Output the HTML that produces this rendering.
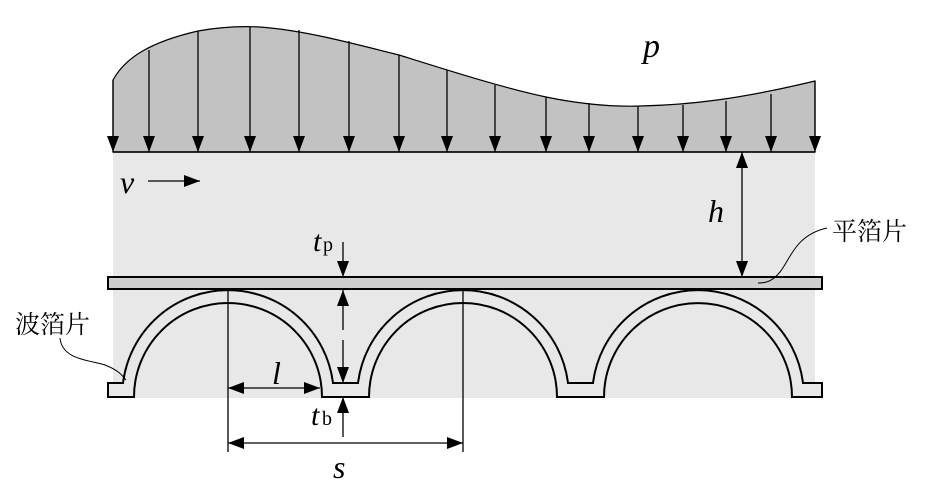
<!DOCTYPE html>
<html><head><meta charset="utf-8"><style>
html,body{margin:0;padding:0;background:#fff;width:939px;height:504px;overflow:hidden}
svg{display:block}
.it{font-family:"Liberation Serif","DejaVu Serif",serif;font-style:italic}
.rm{font-family:"Liberation Serif","DejaVu Serif",serif}
.cj{font-family:"Liberation Serif","Noto Serif CJK SC",serif}
</style></head><body>
<svg width="939" height="504" viewBox="0 0 939 504" xmlns="http://www.w3.org/2000/svg">
<defs>
<marker id="ab" viewBox="0 0 16 12" refX="16" refY="6" markerWidth="16" markerHeight="12" markerUnits="userSpaceOnUse" orient="auto-start-reverse"><path d="M0,0 L16,6 L0,12 z" fill="#000"/></marker>
</defs>
<rect x="113" y="152" width="702" height="246" fill="#e8e8e8"/>
<path d="M113,152 L113,80 C125,58 150,42 198,31 C220,27 240,26 260,27 C300,30 340,40 399,55 C450,71 500,87 546,97 C580,104 610,107 640,106 C690,105 740,99 815,81 L815,152 Z" fill="#c2c2c2" stroke="#000" stroke-width="1.2"/>
<g stroke="#000" stroke-width="1.3" fill="none" marker-end="url(#ab)">
<line x1="113" y1="80" x2="113" y2="152"/>
<line x1="149" y1="50" x2="149" y2="152"/>
<line x1="198" y1="31" x2="198" y2="152"/>
<line x1="250" y1="27" x2="250" y2="152"/>
<line x1="299" y1="30" x2="299" y2="152"/>
<line x1="349" y1="41" x2="349" y2="152"/>
<line x1="399" y1="55" x2="399" y2="152"/>
<line x1="447" y1="70" x2="447" y2="152"/>
<line x1="495" y1="85" x2="495" y2="152"/>
<line x1="546" y1="97" x2="546" y2="152"/>
<line x1="589" y1="103" x2="589" y2="152"/>
<line x1="638" y1="106" x2="638" y2="152"/>
<line x1="683" y1="105" x2="683" y2="152"/>
<line x1="726" y1="101" x2="726" y2="152"/>
<line x1="771" y1="94" x2="771" y2="152"/>
<line x1="815" y1="81" x2="815" y2="152"/>
</g>
<line x1="113" y1="152" x2="815" y2="152" stroke="#000" stroke-width="1.5"/>
<text x="643" y="57" class="it" font-size="34">p</text>
<rect x="108" y="277" width="714" height="12" fill="#cfcfcf" stroke="#000" stroke-width="2"/>
<path d="M108,383 L123,383 A105.8,105.8 0 0 1 333,383 L358,383 A105.8,105.8 0 0 1 568,383 L593,383 A105.8,105.8 0 0 1 803,383 L822,383 L822,397 L792,397 A94,94 0 0 0 604,397 L557,397 A94,94 0 0 0 369,397 L322,397 A94,94 0 0 0 134,397 L108,397 Z" fill="#e8e8e8" stroke="#000" stroke-width="2"/>
<g stroke="#000" stroke-width="1.3" fill="none">
<line x1="228" y1="290" x2="228" y2="452"/>
<line x1="463" y1="290" x2="463" y2="452"/>
<line x1="228" y1="388" x2="320" y2="388" marker-start="url(#ab)" marker-end="url(#ab)"/>
<line x1="228" y1="443" x2="463" y2="443" marker-start="url(#ab)" marker-end="url(#ab)"/>
<line x1="343" y1="242" x2="343" y2="277" marker-end="url(#ab)"/>
<line x1="343" y1="290" x2="343" y2="330" marker-start="url(#ab)"/>
<line x1="343" y1="340" x2="343" y2="383" marker-end="url(#ab)"/>
<line x1="343" y1="437" x2="343" y2="397" marker-end="url(#ab)"/>
<line x1="742" y1="152" x2="742" y2="277" marker-start="url(#ab)" marker-end="url(#ab)"/>
<line x1="148" y1="181" x2="200" y2="181" marker-end="url(#ab)"/>
<path d="M827,228 C795,235 790,260 780,272 C772,282 765,283 758,283" stroke-width="1"/>
<path d="M60,338 C62,360 90,360 105,365 C118,370 122,375 126,380" stroke-width="1"/>
</g>
<text x="120" y="193" class="it" font-size="32">v</text>
<text x="708" y="222" class="it" font-size="32">h</text>
<text x="313" y="251" class="it" font-size="30">t</text><text x="323" y="251" class="rm" font-size="20">p</text>
<text x="311" y="425" class="it" font-size="30">t</text><text x="322" y="425" class="rm" font-size="20">b</text>
<text x="272" y="384" class="it" font-size="32">l</text>
<text x="333" y="478" class="it" font-size="32">s</text>
<text x="832" y="240" class="cj" font-size="25">平箔片</text>
<text x="15" y="333" class="cj" font-size="25">波箔片</text>
</svg>
</body></html>
